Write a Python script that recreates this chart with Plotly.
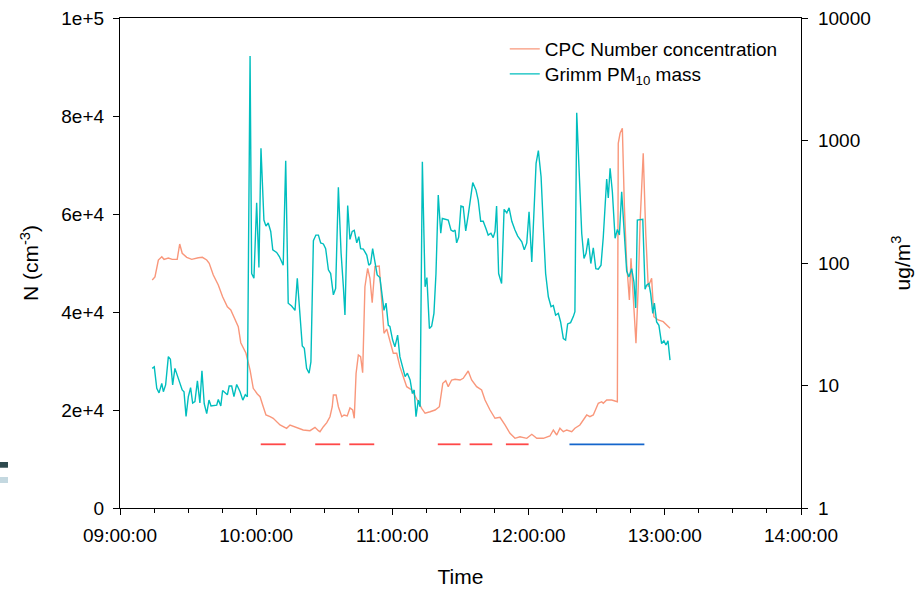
import pandas as pd
import plotly.graph_objects as go

# Minutes after 09:00 and CPC number concentration (cm^-3)
cpc_min = [14.2, 15.4, 16.9, 18.4, 19.4, 21.3, 23.0, 25.2, 26.3, 27.4, 29.4, 31.6, 34.5, 36.3,
           38.2, 39.3, 41.1, 43.3, 45.2, 47.3, 48.8, 50.7, 52.1, 53.2, 55.5, 57.3, 58.7, 60.5,
           61.7, 63.1, 64.3, 66.1, 67.5, 70.5, 73.4, 74.9, 77.8, 80.7, 83.7, 85.9, 87.4, 88.1,
           89.6, 91.1, 92.5, 93.5, 94.0, 95.2, 96.2, 97.7, 98.7, 100.1, 101.3, 102.5, 103.2,
           104.0, 105.0, 106.0, 106.9, 107.9, 109.1, 110.1, 111.1, 112.3, 114.2, 116.3, 117.5,
           118.9, 120.4, 121.9, 123.3, 124.8, 126.3, 128.5, 129.9, 131.4, 132.9, 134.4, 136.6,
           138.8, 140.7, 142.2, 143.5, 144.6, 146.1, 147.6, 149.8, 151.2, 153.4, 154.9, 157.1,
           159.3, 160.8, 163.0, 165.2, 167.4, 169.6, 171.8, 174.0, 176.2, 179.2, 181.4, 183.6,
           186.5, 189.4, 190.9, 192.4, 193.8, 195.3, 196.8, 199.0, 200.4, 202.6, 204.1, 205.6,
           207.0, 208.5, 210.7, 212.2, 212.9, 214.4, 216.6, 219.1, 219.5, 220.3, 221.3, 222.2,
           223.2, 224.4, 225.1, 226.1, 227.3, 228.3, 229.1, 230.5, 231.6, 232.7, 234.2, 235.2,
           237.1, 239.3, 240.8, 242.3]
cpc_n = [46530, 47140, 50610, 51290, 50750, 51020, 50750, 50750, 53880, 51980, 51160, 50750,
         51080, 51160, 50610, 49940, 47550, 45510, 43120, 41080, 40410, 38370, 37000, 33730,
         31570, 28160, 24430, 23270, 22710, 20670, 18980, 18630, 18310, 16940, 16270, 16940,
         16470, 15920, 15780, 16470, 15780, 15570, 16590, 17410, 18630, 20670, 23060, 23060,
         20670, 18630, 18980, 18780, 20410, 20000, 18310, 27490, 31220, 30880, 27610, 45160,
         48920, 46880, 41900, 49240, 49390, 35650, 36530, 34290, 31570, 31570, 28840, 26800,
         24760, 24080, 23060, 21690, 20350, 19330, 19650, 20000, 20670, 25450, 25980, 24760,
         26120, 26270, 26120, 26470, 27960, 26120, 24760, 24080, 22040, 20000, 18310, 18510,
         16940, 15240, 14220, 14550, 14220, 15040, 14220, 14220, 14690, 15920, 14900, 16270,
         15570, 15920, 15570, 16270, 16940, 17960, 18980, 18630, 18980, 21370, 21690, 21370,
         22040, 22040, 21690, 74430, 76470, 77490, 61490, 49940, 42450, 50960, 43820, 33610,
         45160, 58100, 72390, 56060, 45160, 46880, 39040, 38370, 38020, 37350, 36670]

# Minutes after 09:00 and Grimm PM10 mass (ug/m3)
pm_min = [14.2, 15.1, 16.2, 17.2, 18.4, 19.1, 20.1, 21.3, 22.2, 23.2, 24.2, 25.2, 26.4, 27.4,
          28.2, 29.1, 30.1, 31.1, 32.0, 33.0, 34.1, 35.2, 36.1, 37.1, 38.2, 39.2, 40.1, 41.4,
          42.6, 43.3, 44.4, 45.2, 46.6, 47.3, 48.1, 49.2, 50.2, 51.4, 52.9, 54.1, 55.2, 56.1,
          57.3, 58.0, 59.0, 60.2, 61.2, 62.1, 63.4, 64.3, 65.3, 66.4, 67.3, 69.0, 70.2, 71.9,
          73.0, 74.1, 75.6, 77.1, 78.1, 79.3, 80.3, 81.2, 82.2, 83.3, 84.1, 85.2, 86.3, 87.4,
          88.4, 89.6, 90.6, 91.8, 92.8, 94.0, 95.0, 96.2, 97.4, 98.4, 99.1, 100.3, 101.3,
          102.3, 103.2, 104.3, 105.2, 106.0, 107.2, 108.7, 109.6, 110.4, 111.3, 112.3, 113.3,
          114.5, 115.3, 116.3, 117.2, 118.2, 118.9, 120.1, 121.1, 122.3, 123.3, 124.5, 125.6,
          126.6, 127.8, 128.8, 129.6, 130.4, 131.4, 132.2, 133.2, 134.4, 135.2, 136.3, 137.3,
          138.3, 139.2, 140.2, 141.3, 142.0, 143.2, 144.6, 145.8, 146.8, 147.6, 148.3, 149.2,
          150.2, 151.2, 152.3, 153.4, 154.2, 155.4, 156.8, 157.8, 158.9, 160.0, 161.2, 162.2,
          163.4, 164.4, 165.2, 165.9, 166.8, 168.1, 169.2, 170.4, 171.4, 172.6, 174.0, 175.2,
          177.0, 178.1, 179.2, 180.2, 181.4, 182.4, 183.3, 184.3, 185.5, 186.5, 187.5, 188.7,
          189.9, 190.9, 191.9, 193.1, 194.1, 195.3, 196.3, 197.2, 198.5, 199.7, 200.4, 201.2,
          202.2, 203.4, 204.4, 205.3, 206.3, 207.4, 208.5, 209.6, 210.7, 211.9, 212.9, 213.7,
          214.4, 215.1, 215.9, 216.9, 218.1, 219.1, 220.0, 221.0, 222.2, 223.2, 224.2, 225.4,
          226.4, 227.2, 227.9, 229.1, 230.3, 231.3, 232.0, 233.0, 233.8, 234.7, 235.4, 236.4,
          237.4, 238.6, 239.6, 240.5, 241.4, 242.3]
pm_mass = [13.8, 14.2, 9.5, 8.7, 10.4, 8.9, 10.1, 17.2, 16.4, 10.1, 13.8, 12.2, 10.4, 9.2,
           8.9, 5.6, 8.1, 9.6, 7.2, 7.4, 10.9, 7.2, 13.2, 7.1, 5.9, 7.6, 6.8, 6.9, 6.9, 7.7,
           6.8, 9.1, 8.6, 8.4, 9.9, 9.9, 8.1, 10.2, 8.9, 7.6, 8.4, 8.1, 4900, 82, 75, 310, 92,
           864, 224, 200, 212, 181, 128, 122, 113, 96, 684, 47, 44.6, 41, 75, 34, 21, 20.1,
           13.8, 12.6, 15.6, 152, 169, 169, 146, 143, 131, 88, 82, 55, 62, 415, 120, 64, 37.6,
           294, 156, 181, 185, 146, 164, 131, 130, 116, 96, 99, 131, 102, 80, 76, 56, 41, 47,
           31, 30.4, 23.5, 20.7, 25.8, 17.2, 14.2, 11.8, 12.6, 11.1, 8.6, 9.2, 5.56, 7.6, 6.7,
           671, 64, 76, 29.2, 30.5, 38.8, 82, 359, 175, 231, 228, 224, 186, 181, 186, 146, 163,
           292, 288, 183, 246, 316, 453, 395, 326, 219, 219, 191, 169, 175, 161, 181, 292, 82,
           68, 274, 256, 282, 219, 186, 166, 149, 128, 146, 262, 102, 307, 651, 826, 506, 197,
           82, 53, 44, 45, 37.6, 38.8, 33, 24.2, 23.5, 31.8, 32.6, 36.5, 40, 1687, 574, 175,
           109, 120, 159, 99, 133, 90, 89, 96, 163, 316, 485, 340, 593, 382, 159, 188, 169,
           382, 163, 86, 77, 90, 70, 43, 224, 227, 227, 61, 66, 68, 56, 38.8, 47, 33, 31, 22,
           23.2, 21.4, 23.2, 16.1]

# Sampling periods drawn as bars at a fixed level on the left axis
red_starts = ["10:02", "10:26", "10:41", "11:20", "11:34", "11:50"]
red_ends = ["10:13", "10:37", "10:52", "11:30", "11:44", "12:00"]
blue_starts = ["12:18"]
blue_ends = ["12:51"]
period_level = 13000

left_ticks = [0, 20000, 40000, 60000, 80000, 100000]
left_labels = ["0", "2e+4", "4e+4", "6e+4", "8e+4", "1e+5"]
right_ticks = [1, 10, 100, 1000, 10000]
right_labels = ["1", "10", "100", "1000", "10000"]

DAY = "2000-01-01"
base = pd.Timestamp(f"{DAY} 09:00:00")


def to_time(minutes):
    return [base + pd.Timedelta(minutes=m) for m in minutes]


def period_xy(starts, ends):
    xs, ys = [], []
    for s, e in zip(starts, ends):
        xs += [pd.Timestamp(f"{DAY} {s}"), pd.Timestamp(f"{DAY} {e}"), None]
        ys += [period_level, period_level, None]
    return xs, ys


CPC_COLOR = "#F9977B"
PM_COLOR = "#00BEBE"
FONT = "Liberation Sans, Arial, sans-serif"
TICK_SIZE = 19
TITLE_SIZE = 21

fig = go.Figure()

fig.add_trace(go.Scatter(
    x=to_time(cpc_min), y=cpc_n, mode="lines", name="CPC Number concentration",
    line=dict(color=CPC_COLOR, width=1.4), yaxis="y", legend="legend"))

rx, ry = period_xy(red_starts, red_ends)
fig.add_trace(go.Scatter(x=rx, y=ry, mode="lines", showlegend=False,
                         line=dict(color="#FF4848", width=1.8), yaxis="y"))
bx, by = period_xy(blue_starts, blue_ends)
fig.add_trace(go.Scatter(x=bx, y=by, mode="lines", showlegend=False,
                         line=dict(color="#1466CC", width=1.8), yaxis="y"))

fig.add_trace(go.Scatter(
    x=to_time(pm_min), y=pm_mass, mode="lines", name="Grimm PM<sub>10</sub> mass",
    line=dict(color=PM_COLOR, width=1.4), yaxis="y2", legend="legend2"))

axis_common = dict(showline=True, linecolor="black", linewidth=1.3, ticks="outside",
                   ticklen=6, tickwidth=1.3, tickcolor="black", showgrid=False,
                   zeroline=False, automargin=False,
                   tickfont=dict(size=TICK_SIZE, color="black", family=FONT))

legend_common = dict(x=0.565, xanchor="left", yanchor="middle",
                     bgcolor="rgba(0,0,0,0)", borderwidth=0,
                     font=dict(size=TICK_SIZE, family=FONT, color="black"))

fig.update_layout(
    width=920, height=589,
    margin=dict(l=120, r=119, t=18, b=81, autoexpand=False),
    paper_bgcolor="white", plot_bgcolor="white",
    font=dict(family=FONT, color="black"),
    xaxis=dict(
        **axis_common, mirror=True, type="date",
        range=[f"{DAY} 09:00:00", f"{DAY} 14:00:00"],
        tickformat="%H:%M:%S", dtick=3600000, tick0=f"{DAY} 09:00:00",
        ticklabelstandoff=4,
        minor=dict(dtick=900000, tick0=f"{DAY} 09:00:00", ticks="outside",
                   ticklen=4, tickwidth=1.2, tickcolor="black", showgrid=False),
        title=dict(text="Time", font=dict(size=TITLE_SIZE, family=FONT, color="black"),
                   standoff=24),
    ),
    yaxis=dict(
        **axis_common, range=[0, 100000], tickvals=left_ticks, ticktext=left_labels,
        ticklabelstandoff=5,
        title=dict(text="N (cm<sup>-3</sup>)",
                   font=dict(size=TITLE_SIZE, family=FONT, color="black"), standoff=16),
    ),
    yaxis2=dict(
        **axis_common, type="log", range=[0, 4], overlaying="y", side="right",
        tickvals=right_ticks, ticktext=right_labels, ticklabelstandoff=6,
        title=dict(text="ug/m<sup>3</sup>",
                   font=dict(size=TITLE_SIZE, family=FONT, color="black"), standoff=25),
    ),
    legend=dict(**legend_common, y=0.9367),
    legend2=dict(**legend_common, y=0.8857),
    showlegend=True,
)

# Small swatches at the left edge of the page
fig.add_shape(type="rect", xref="paper", yref="paper", x0=-0.1762, x1=-0.1645,
              y0=0.0822, y1=0.0939, fillcolor="#2E4A4E", line_width=0, layer="above")
fig.add_shape(type="rect", xref="paper", yref="paper", x0=-0.1762, x1=-0.1645,
              y0=0.0510, y1=0.0633, fillcolor="#C4D8E0", line_width=0, layer="above")

fig.write_html("out.html")
